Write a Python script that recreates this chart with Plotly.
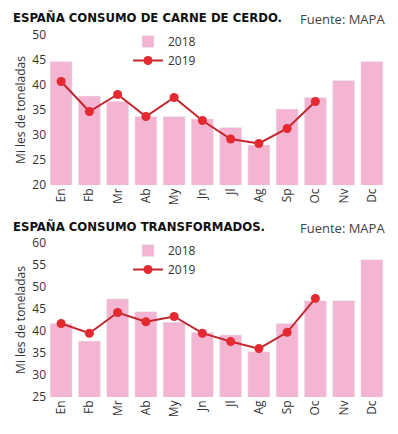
import plotly.graph_objects as go

months = ["En", "Fb", "Mr", "Ab", "My", "Jn", "Jl", "Ag", "Sp", "Oc", "Nv", "Dc"]
cerdo_2018 = [44.7, 37.8, 36.7, 33.7, 33.7, 33.2, 31.5, 28.0, 35.2, 37.5, 40.9, 44.7]
cerdo_2019 = [40.7, 34.7, 38.1, 33.7, 37.5, 32.9, 29.2, 28.3, 31.3, 36.7]
trans_2018 = [41.7, 37.7, 47.3, 44.4, 42.0, 39.7, 39.1, 35.3, 41.7, 46.9, 46.9, 56.2]
trans_2019 = [41.7, 39.5, 44.2, 42.1, 43.3, 39.5, 37.6, 36.0, 39.7, 47.4]

# page body has an 8px margin, so the figure is drawn 8px in from the window edge
OFF = 8
W, H = 398 - OFF, 434 - OFF
BAR = "#f3b5d1"
LINE = "#c1272d"
MARK = "#e42a30"
TXT = "#333333"

def px_x(px):
    return (px - OFF) / W

def px_y(px):
    return 1 - (px - OFF) / H

fig = go.Figure()
fig.add_trace(go.Bar(x=months, y=cerdo_2018, name="2018", marker_color=BAR,
                     xaxis="x", yaxis="y", legend="legend"))
fig.add_trace(go.Scatter(x=months[:len(cerdo_2019)], y=cerdo_2019, name="2019", mode="lines+markers",
                         line=dict(color=LINE, width=2), marker=dict(color=MARK, size=9),
                         xaxis="x", yaxis="y", legend="legend"))
fig.add_trace(go.Bar(x=months, y=trans_2018, name="2018", marker_color=BAR,
                     xaxis="x2", yaxis="y2", legend="legend2"))
fig.add_trace(go.Scatter(x=months[:len(trans_2019)], y=trans_2019, name="2019", mode="lines+markers",
                         line=dict(color=LINE, width=2), marker=dict(color=MARK, size=9),
                         xaxis="x2", yaxis="y2", legend="legend2"))

xd = [px_x(47), px_x(386)]

font_tick = dict(family="Open Sans, Lato, sans-serif", size=12, color=TXT)
common_x = dict(domain=xd, tickangle=-90, showgrid=False, showline=False, ticks="",
                tickfont=font_tick, range=[-0.5, 11.5], fixedrange=True, automargin=False)
common_y = dict(showgrid=False, zeroline=False, showline=False, ticks="", tickfont=font_tick,
                dtick=5, automargin=False,
                title=dict(text="Mi les de toneladas", font=font_tick, standoff=4))

leg = dict(bgcolor="rgba(0,0,0,0)", font=dict(family="Open Sans, Lato, sans-serif", size=12, color=TXT),
           xanchor="left", yanchor="top", itemwidth=30, tracegroupgap=0)

fig.update_layout(
    width=W, height=H, margin=dict(l=0, r=0, t=0, b=0),
    paper_bgcolor="white", plot_bgcolor="white", bargap=0.22,
    xaxis=dict(common_x, anchor="y"),
    yaxis=dict(common_y, domain=[px_y(185), px_y(35)], range=[20, 50], anchor="x"),
    xaxis2=dict(common_x, anchor="y2"),
    yaxis2=dict(common_y, domain=[px_y(397), px_y(243)], range=[25, 60], anchor="x2"),
    legend=dict(leg, x=px_x(128), y=px_y(27)),
    legend2=dict(leg, x=px_x(128), y=px_y(236)),
    showlegend=True,
)

title_font = dict(family="DejaVu Sans Condensed", size=13, color="#111111")
src_font = dict(family="Open Sans, Lato, sans-serif", size=13, color="#444444")
for title, ytop in [("<b>ESPAÑA CONSUMO DE CARNE DE CERDO.</b>", 8),
                    ("<b>ESPAÑA CONSUMO TRANSFORMADOS.</b>", 217)]:
    fig.add_annotation(text=title, xref="paper", yref="paper", x=px_x(11), y=px_y(ytop),
                       xanchor="left", yanchor="top", showarrow=False, font=title_font)
    fig.add_annotation(text="Fuente: MAPA", xref="paper", yref="paper", x=px_x(387), y=px_y(ytop),
                       xanchor="right", yanchor="top", showarrow=False, font=src_font)

fig.write_html("out.html")
